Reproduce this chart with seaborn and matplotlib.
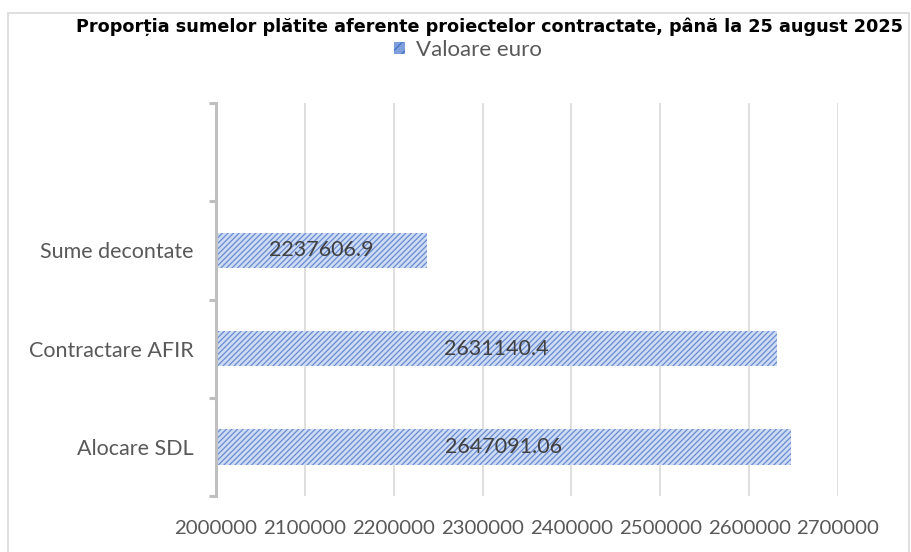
import matplotlib
matplotlib.use("Agg")
import matplotlib.pyplot as plt
import seaborn as sns
import pandas as pd
from matplotlib.patches import Rectangle, Patch

# date din grafic
categorii = ["Sume decontate", "Contractare AFIR", "Alocare SDL"]
valori = [2237606.9, 2631140.4, 2647091.06]
etichete = ["2237606.9", "2631140.4", "2647091.06"]
x_ticks = [2000000, 2100000, 2200000, 2300000, 2400000, 2500000, 2600000, 2700000]

titlu = "Proporția sumelor plătite aferente proiectelor contractate, până la 25 august 2025"
serie = "Valoare euro"

df = pd.DataFrame({"Categorie": categorii, "Valoare": valori})

sns.set_style("white")
plt.rcParams["hatch.linewidth"] = 0.9
font_txt = ["Lato", "DejaVu Sans"]
fs = 15.5

fig = plt.figure(figsize=(9.12, 5.52), dpi=100)
ax = fig.add_axes([216 / 912, 56 / 552, 622 / 912, 393 / 552])

sns.barplot(data=df, y="Categorie", x="Valoare", orient="h", ax=ax,
            color="#cddbf3", width=0.36, edgecolor="#6a8cd2", linewidth=0)
for p in ax.patches:
    p.set_hatch("//////")
    p.set_facecolor("#cddbf3")

ax.set_xlim(x_ticks[0], x_ticks[-1])
ax.set_ylim(2.5, -1.5)
ax.set_xticks(x_ticks)
ax.set_xticklabels([str(t) for t in x_ticks], fontsize=14.7, color="#595959", family=font_txt)
ax.tick_params(axis="x", length=0, pad=17)

# separatoare categorii (ticks majore) si etichete (ticks minore)
ax.set_yticks([-1.5, -0.5, 0.5, 1.5, 2.5])
ax.set_yticklabels([])
ax.set_yticks([0, 1, 2], minor=True)
ax.set_yticklabels(categorii, minor=True, fontsize=fs, color="#595959", family=font_txt)
ax.tick_params(axis="y", which="major", left=True, length=5, width=2.2,
               color="#bfbfbf", direction="out")
ax.tick_params(axis="y", which="minor", left=False, length=0, pad=16)
ax.set_xlabel("")
ax.set_ylabel("")

ax.grid(axis="x", color="#d9d9d9", linewidth=1.2)
ax.set_axisbelow(True)
for s in ["top", "right", "bottom"]:
    ax.spines[s].set_visible(False)
ax.spines["left"].set_color("#bfbfbf")
ax.spines["left"].set_linewidth(2.2)

for p, txt in zip(ax.patches, etichete):
    cx = ax.get_xlim()[0] + (p.get_x() + p.get_width() - ax.get_xlim()[0]) / 2
    ax.text(cx, p.get_y() + p.get_height() / 2, txt, ha="center", va="center",
            fontsize=fs, color="#404040", family=font_txt)

fig.text(490 / 912, 1 - 27 / 552, titlu, ha="center", va="center",
         fontsize=12.7, fontweight="bold", color="black", family="DejaVu Sans")

handle = Patch(facecolor="#7f9fdc", edgecolor="#4472c4", hatch="///", linewidth=0)
fig.legend([handle], [serie], loc="center", bbox_to_anchor=(468 / 912, 1 - 50 / 552),
           frameon=False, labelcolor="#595959", handlelength=0.5,
           handleheight=0.5, handletextpad=0.5, prop={"family": font_txt, "size": 16})

fig.patches.append(Rectangle((8 / 912, -0.05), 901 / 912, 1.05 - 13 / 552,
                             transform=fig.transFigure, fill=False,
                             edgecolor="#d9d9d9", linewidth=1.2))

fig.savefig("out.png", dpi=100)
